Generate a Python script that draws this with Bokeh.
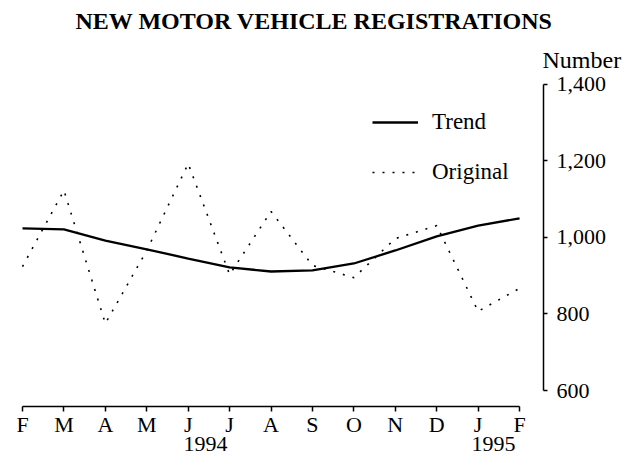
from bokeh.plotting import figure
from bokeh.models import (FixedTicker, NumeralTickFormatter, Range1d, Title,
                          Legend, LegendItem, LinearAxis)
from bokeh.embed import file_html
from bokeh.resources import INLINE

# ---- data ----
months = ["F", "M", "A", "M", "J", "J", "A", "S", "O", "N", "D", "J", "F"]
x_idx = list(range(13))
trend = [1024, 1021, 992, 969, 945, 922, 911, 914, 932, 966, 1003, 1031, 1050]
original = [924, 1123, 775, 966, 1193, 903, 1068, 927, 895, 997, 1031, 807, 867]
y_ticks = [600, 800, 1000, 1200, 1400]
years = ["1994", "1995"]
year_pos = [4.42, 11.37]

FONT = "Liberation Serif"
W, H = 632, 462

p = figure(width=W, height=H, output_backend="svg", toolbar_location=None,
           x_range=Range1d(-0.0966, 12.578), y_range=Range1d(558.2, 1405),
           y_axis_location="right",
           min_border_left=18, min_border_right=W - 543,
           min_border_top=82, min_border_bottom=H - 406)
p.outline_line_color = None
p.grid.visible = False
p.background_fill_color = "white"
p.border_fill_color = "white"

r_trend = p.line(x_idx, trend, line_color="black", line_width=2.3)
r_orig = p.line(x_idx, original, line_color="black", line_width=1.6,
                line_dash="2 8")

# x axis
xa = p.xaxis[0]
xa.ticker = FixedTicker(ticks=x_idx)
xa.major_label_overrides = {i: m for i, m in zip(x_idx, months)}
xa.bounds = (0, 12)
xa.axis_line_width = 1.5
xa.major_tick_in = 0
xa.major_tick_out = 5
xa.major_tick_line_width = 1.5
xa.minor_tick_line_color = None
xa.major_label_standoff = 0
xa.major_label_text_font = FONT
xa.major_label_text_font_size = "22px"
xa.major_label_text_color = "black"

# year axis (second row of x labels)
year_axis = LinearAxis(ticker=FixedTicker(ticks=year_pos),
                       major_label_overrides={xp: yr for xp, yr in zip(year_pos, years)},
                       axis_line_color=None, major_tick_line_color=None,
                       minor_tick_line_color=None, major_label_standoff=-3,
                       major_tick_in=0, major_tick_out=0,
                       major_label_text_font=FONT,
                       major_label_text_font_size="22px",
                       major_label_text_color="black")
p.add_layout(year_axis, "below")

# y axis
ya = p.yaxis[0]
ya.ticker = FixedTicker(ticks=y_ticks)
ya.formatter = NumeralTickFormatter(format="0,0")
ya.bounds = (600, 1400)
ya.axis_line_width = 1.5
ya.major_tick_in = 0
ya.major_tick_out = 4
ya.major_tick_line_width = 1.5
ya.minor_tick_line_color = None
ya.major_label_standoff = 9
ya.major_label_text_font = FONT
ya.major_label_text_font_size = "22px"
ya.major_label_text_color = "black"

# legend
legend = Legend(items=[LegendItem(label="Trend", renderers=[r_trend]),
                       LegendItem(label="Original", renderers=[r_orig])],
                location=(354, 221), orientation="vertical",
                glyph_width=46, glyph_height=20, label_height=20,
                label_standoff=14, spacing=24, padding=0, margin=0,
                border_line_color=None, background_fill_alpha=0,
                label_text_font=FONT, label_text_font_size="23px",
                label_text_color="black")
p.add_layout(legend)

# titles
num_title = Title(text="Number", align="left", offset=524, standoff=20,
                  text_font=FONT, text_font_style="normal",
                  text_font_size="24px", text_color="black")
p.add_layout(num_title, "above")

main_title = Title(text="NEW MOTOR VEHICLE REGISTRATIONS", align="left",
                   offset=57, standoff=1, text_font=FONT,
                   text_font_style="bold", text_font_size="24px",
                   text_color="black")
p.add_layout(main_title, "above")

open("out.html", "w").write(file_html(p, INLINE))
